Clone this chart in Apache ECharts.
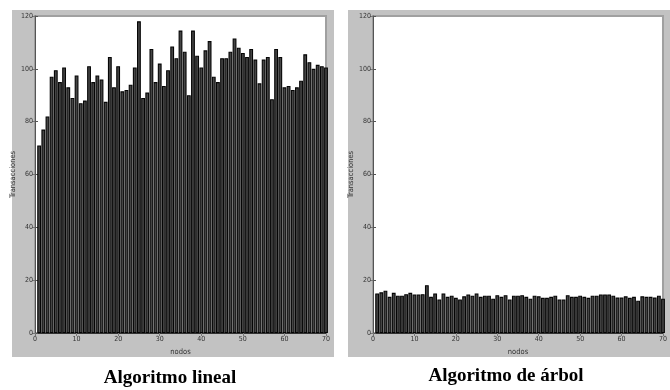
<!DOCTYPE html>
<html>
<head>
<meta charset="utf-8">
<script src="https://cdn.jsdelivr.net/npm/echarts@6/dist/echarts.min.js"></script>
<style>
html,body{margin:0;padding:0;background:#fff;}
#chart{width:670px;height:390px;}
</style>
</head>
<body>
<div id="chart"></div>
<script>
// Node indices (x positions)
var nodos = [1,2,3,4,5,6,7,8,9,10,11,12,13,14,15,16,17,18,19,20,
  21,22,23,24,25,26,27,28,29,30,31,32,33,34,35,36,37,38,39,40,
  41,42,43,44,45,46,47,48,49,50,51,52,53,54,55,56,57,58,59,60,
  61,62,63,64,65,66,67,68,69,70];

// Transactions – linear algorithm
var lineal = [71,77,82,97,99.5,95,100.5,93,89,97.5,87,88,101,95,97.5,96,87.5,104.5,93,101,
  91.5,92,94,100.5,118,89,91,107.5,95,102,93.5,99.5,108.5,104,114.5,106.5,90,114.5,105,100.5,
  107,110.5,97,95,104,104,106.5,111.5,108,106,104.5,107.5,103.5,94.5,103.5,104.5,88.5,107.5,104.5,93,
  93.5,92,93,95.5,105.5,102.5,100,101.5,101,100.5];

// Transactions – tree algorithm
var arbol = [15,15.4,16,13.7,15.2,14.1,14.1,14.7,15.2,14.6,14.6,14.7,18.1,13.7,15,12.7,15,13.7,14.1,13.3,
  12.7,13.9,14.6,14.1,15,13.7,14.1,14.1,13,14.3,13.7,14.3,12.7,14.1,14.1,14.3,13.7,13,14.1,13.9,
  13.3,13.3,13.7,14.1,12.7,12.7,14.3,13.7,13.7,14.1,13.7,13.3,14.1,14.1,14.6,14.6,14.6,14.1,13.4,13.4,
  13.9,13.3,13.7,12.2,13.9,13.7,13.7,13.4,14.1,13];

var xTicks = [0,10,20,30,40,50,60,70];
var yTicks = [0,20,40,60,80,100,120];
var titles = ['Algoritmo lineal', 'Algoritmo de árbol'];
var yName = 'Transacciones';
var xName = 'nodos';

var pairs = function(vals){ return nodos.map(function(n,i){ return [n, vals[i]]; }); };

var smallFont = 'Liberation Sans Narrow, DejaVu Sans Condensed, sans-serif';
var grids = [
  {left:35, top:16, width:291, height:317},
  {left:373, top:16, width:291, height:317}
];

var xAxes = [], yAxes = [], series = [];
[lineal, arbol].forEach(function(vals, g){
  grids[g].show = true;
  grids[g].backgroundColor = '#fff';
  grids[g].borderColor = '#a0a0a0';
  grids[g].borderWidth = 2;
  xAxes.push({
    gridIndex:g, type:'value', min:xTicks[0], max:xTicks[xTicks.length-1], interval:10,
    position:'bottom', splitLine:{show:false},
    axisLine:{show:true, lineStyle:{color:'#333', width:1}},
    axisTick:{show:true, inside:true, length:3, lineStyle:{color:'#555'}},
    axisLabel:{fontSize:7, fontFamily:smallFont, color:'#333', margin:3},
    name:xName, nameLocation:'middle', nameGap:12,
    nameTextStyle:{fontSize:7.5, fontFamily:smallFont, color:'#333'}
  });
  xAxes.push({
    gridIndex:g, type:'value', min:xTicks[0], max:xTicks[xTicks.length-1], interval:10,
    position:'top', splitLine:{show:false}, axisLine:{show:false},
    axisTick:{show:true, inside:true, length:3, lineStyle:{color:'#777'}},
    axisLabel:{show:false}
  });
  yAxes.push({
    gridIndex:g, type:'value', min:yTicks[0], max:yTicks[yTicks.length-1], interval:20,
    position:'left', splitLine:{show:false},
    axisLine:{show:true, lineStyle:{color:'#555', width:1}},
    axisTick:{show:true, inside:true, length:3, lineStyle:{color:'#555'}},
    axisLabel:{fontSize:7, fontFamily:smallFont, color:'#333', margin:2},
    name:yName, nameLocation:'middle', nameGap:13, nameRotate:90,
    nameTextStyle:{fontSize:7.5, fontFamily:smallFont, color:'#333'}
  });
  yAxes.push({
    gridIndex:g, type:'value', min:yTicks[0], max:yTicks[yTicks.length-1], interval:20,
    position:'right', splitLine:{show:false}, axisLine:{show:false},
    axisTick:{show:true, inside:true, length:3, lineStyle:{color:'#777'}},
    axisLabel:{show:false}
  });
  series.push({
    type:'bar', xAxisIndex:g*2, yAxisIndex:g*2, data:pairs(vals),
    barWidth:'92%', clip:true,
    itemStyle:{color:'#454545', borderColor:'#050505', borderWidth:1.1},
    silent:true, animation:false
  });
});

var titleStyle = {fontFamily:'Liberation Serif, serif', fontWeight:'bold', fontSize:19, fill:'#000', textAlign:'center', textVerticalAlign:'middle'};
var chart = echarts.init(document.getElementById('chart'), null, {renderer:'canvas'});
chart.setOption({
  animation:false,
  graphic:[
    {type:'rect', z:-10, shape:{x:12, y:10, width:322, height:347}, style:{fill:'#c2c2c2'}},
    {type:'rect', z:-10, shape:{x:348, y:10, width:322, height:347}, style:{fill:'#c2c2c2'}},
    {type:'text', x:170, y:378, style:Object.assign({text:titles[0]}, titleStyle)},
    {type:'text', x:506, y:376, style:Object.assign({text:titles[1]}, titleStyle)}
  ],
  grid:grids,
  xAxis:xAxes,
  yAxis:yAxes,
  series:series
});
</script>
</body>
</html>
